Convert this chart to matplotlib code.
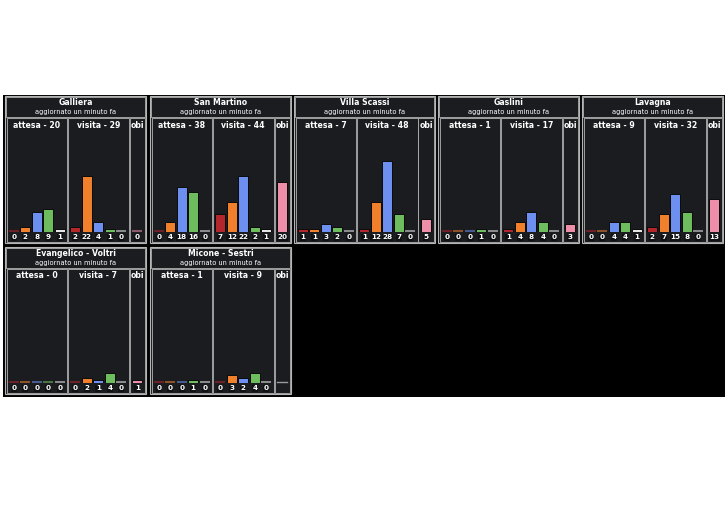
import matplotlib
matplotlib.use('Agg')
import matplotlib.pyplot as plt
from matplotlib.patches import Rectangle

# Dati per ospedale: 5 codici colore per attesa e visita, più OBI
ospedali = ['Galliera', 'San Martino', 'Villa Scassi', 'Gaslini', 'Lavagna',
            'Evangelico - Voltri', 'Micone - Sestri']
attesa = [[0, 2, 8, 9, 1],
          [0, 4, 18, 16, 0],
          [1, 1, 3, 2, 0],
          [0, 0, 0, 1, 0],
          [0, 0, 4, 4, 1],
          [0, 0, 0, 0, 0],
          [0, 0, 0, 1, 0]]
visita = [[2, 22, 4, 1, 0],
          [7, 12, 22, 2, 1],
          [1, 12, 28, 7, 0],
          [1, 4, 8, 4, 0],
          [2, 7, 15, 8, 0],
          [0, 2, 1, 4, 0],
          [0, 3, 2, 4, 0]]
obi = [0, 20, 5, 3, 13, 1, None]
sottotitolo = 'aggiornato un minuto fa'

colori = ['#b3262c', '#f0802c', '#6d8ff0', '#6dbd5e', '#e6e6e6']
colore_obi = '#ef8ea9'

W, H = 728, 507
fig = plt.figure(figsize=(W / 100, H / 100), dpi=100, facecolor='white')

BG = '#1a1c20'
BORDO = '#b5b5b5'


def rett(x, y, w, h, fc, ec='none', lw=0.0, z=-2):
    fig.patches.append(Rectangle((x / W, 1 - (y + h) / H), w / W, h / H,
                                 transform=fig.transFigure, facecolor=fc,
                                 edgecolor=ec, linewidth=lw, zorder=z))


def testo(x, y, s, **kw):
    fig.text(x / W, 1 - y / H, s, color='white', ha='center', va='center',
             zorder=5, **kw)


def barre(x, w, top, base, valori, cols, xlim):
    ax = fig.add_axes([x / W, 1 - base / H, w / W, (base - top) / H])
    ax.set_xlim(*xlim)
    ax.set_ylim(0, 40)
    ax.axis('off')
    ax.set_zorder(6)
    for i, v in enumerate(valori):
        if v is None:
            ax.plot([i - 0.42, i + 0.42], [0.3, 0.3], color='#9a9a9a', lw=1.0,
                    clip_on=False)
            continue
        if v == 0:
            ax.bar(i, 0.7, width=0.88, color=cols[i], alpha=0.55, linewidth=0)
        else:
            ax.bar(i, v, width=0.9, color=cols[i], edgecolor='#0b0b0b',
                   linewidth=0.7)
        testo(x + (i - xlim[0]) / (xlim[1] - xlim[0]) * w, base + 5.3, str(v),
              fontsize=5.2, fontweight='semibold',
              bbox=dict(boxstyle='square,pad=0.08', fc='#101113', ec='none'))


# sfondo nero
rett(3, 95, 722, 302, 'black', z=-3)

pos_x = [5, 150, 294, 438, 582]
pos_y = [96, 247]

for k, nome in enumerate(ospedali):
    L = pos_x[k % 5]
    T = pos_y[k // 5]
    rett(L, T, 141, 147, BG, BORDO, 0.8)
    rett(L + 1, T + 1, 139, 20, BG, BORDO, 0.6)
    testo(L + 70.5, T + 6.5, nome, fontsize=5.6, fontweight='bold')
    testo(L + 70.5, T + 16, sottotitolo, fontsize=4.8)

    # sotto-pannelli
    sub = [(L + 1.5, 60.5), (L + 63, 60.5), (L + 124.5, 15.5)]
    for sx, sw in sub:
        rett(sx, T + 22, sw, 124, BG, BORDO, 0.6)
    testo(sub[0][0] + sub[0][1] / 2, T + 29, 'attesa - %d' % sum(attesa[k]),
          fontsize=5.6, fontweight='bold')
    testo(sub[1][0] + sub[1][1] / 2, T + 29, 'visita - %d' % sum(visita[k]),
          fontsize=5.6, fontweight='bold')
    testo(sub[2][0] + sub[2][1] / 2 + 0.5, T + 29, 'obi',
          fontsize=5.6, fontweight='bold')

    barre(sub[0][0] + 1, sub[0][1] - 2, T + 35, T + 136, attesa[k], colori, (-0.55, 4.55))
    barre(sub[1][0] + 1, sub[1][1] - 2, T + 35, T + 136, visita[k], colori, (-0.55, 4.55))
    barre(sub[2][0] + 1.5, sub[2][1] - 3, T + 35, T + 136, [obi[k]], [colore_obi], (-0.55, 0.55))

fig.savefig('out.png', dpi=100, facecolor='white')
